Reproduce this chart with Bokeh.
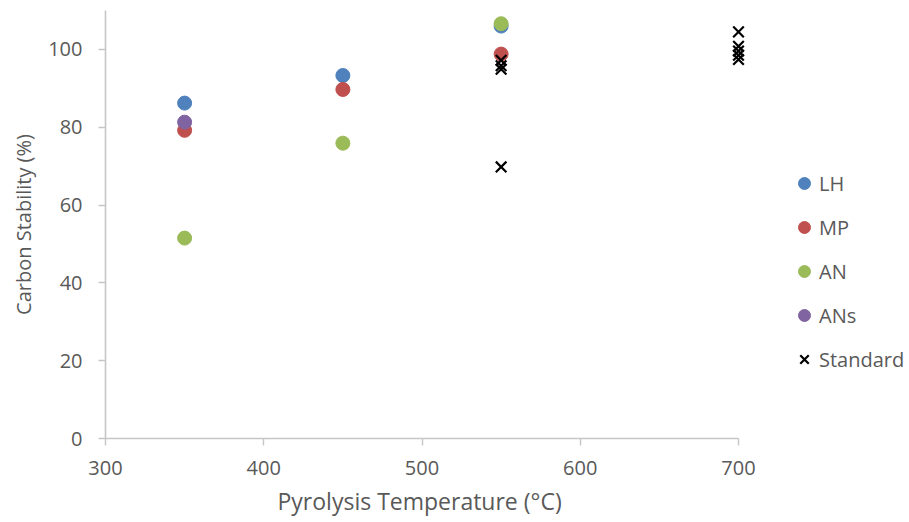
from bokeh.plotting import figure
from bokeh.models import Range1d, FixedTicker, Legend, LegendItem, Title
from bokeh.embed import file_html
from bokeh.resources import INLINE

# ---- data ----
lh_x = [350, 450, 550]
lh_y = [86.2, 93.3, 106.0]
mp_x = [350, 450, 550]
mp_y = [79.2, 89.7, 98.8]
an_x = [350, 450, 550]
an_y = [51.5, 75.9, 106.6]
ans_x = [350]
ans_y = [81.3]
std_x = [550, 550, 550, 550, 700, 700, 700, 700, 700]
std_y = [97.2, 95.8, 94.9, 69.8, 104.5, 100.8, 99.6, 98.5, 97.4]

x_ticks = [300, 400, 500, 600, 700]
y_ticks = [0, 20, 40, 60, 80, 100]

FONT = "Open Sans"
GRAY = "#595959"
AXIS = "#c6c6c6"

W, H = 909, 522
LEFT = 105
PX_PER_UNIT = 1.5825  # horizontal scale (px per °C) of the reference
x_end = 300 + (W - LEFT) / PX_PER_UNIT  # frame runs to the right edge; axis is bounded to 300..700

p = figure(width=W, height=H, output_backend="svg", toolbar_location=None,
           x_range=Range1d(300, x_end), y_range=Range1d(0, 110),
           min_border_left=LEFT, min_border_right=0,
           min_border_top=10, min_border_bottom=H - 438)
p.outline_line_color = None
p.grid.grid_line_color = None
p.background_fill_color = "white"
p.border_fill_color = "white"

r_lh = p.scatter(lh_x, lh_y, size=14, marker="circle", fill_color="#4f81bd", line_color="#4f81bd")
r_mp = p.scatter(mp_x, mp_y, size=14, marker="circle", fill_color="#c0504d", line_color="#c0504d")
r_an = p.scatter(an_x, an_y, size=14, marker="circle", fill_color="#9bbb59", line_color="#9bbb59")
r_ans = p.scatter(ans_x, ans_y, size=14, marker="circle", fill_color="#8064a2", line_color="#8064a2")
r_std = p.scatter(std_x, std_y, size=15, marker="x", line_color="black", line_width=2.2)

for ax in (p.xaxis[0], p.yaxis[0]):
    ax.axis_line_color = AXIS
    ax.axis_line_width = 1.6
    ax.major_tick_line_color = AXIS
    ax.major_tick_line_width = 1.4
    ax.major_tick_in = 0
    ax.major_tick_out = 7
    ax.minor_tick_line_color = None
    ax.major_label_text_font = FONT
    ax.major_label_text_font_size = "20px"
    ax.major_label_text_color = GRAY
    ax.axis_label_text_font = FONT
    ax.axis_label_text_font_size = "20px"
    ax.axis_label_text_color = GRAY
    ax.axis_label_text_font_style = "normal"

p.xaxis[0].ticker = FixedTicker(ticks=x_ticks)
p.xaxis[0].bounds = (300, 700)
p.xaxis[0].major_label_standoff = 15

p.yaxis[0].ticker = FixedTicker(ticks=y_ticks)
p.yaxis[0].major_label_standoff = 16
p.yaxis[0].axis_label = "Carbon Stability (%)"
p.yaxis[0].axis_label_standoff = 8

xlabel = Title(text="Pyrolysis Temperature (°C)", align="left", offset=172,
               text_font=FONT, text_font_size="23px", text_color=GRAY,
               text_font_style="normal", standoff=11,
               vertical_align="bottom", text_line_height=0.8)
p.add_layout(xlabel, "below")

legend = Legend(items=[
    LegendItem(label="LH", renderers=[r_lh]),
    LegendItem(label="MP", renderers=[r_mp]),
    LegendItem(label="AN", renderers=[r_an]),
    LegendItem(label="ANs", renderers=[r_ans]),
    LegendItem(label="Standard", renderers=[r_std]),
], location=(684, 64))
legend.border_line_color = None
legend.background_fill_alpha = 0
legend.padding = 0
legend.margin = 0
legend.glyph_width = 30
legend.glyph_height = 30
legend.spacing = 14
legend.label_standoff = -5
legend.label_text_font = FONT
legend.label_text_font_size = "20px"
legend.label_text_color = GRAY
p.add_layout(legend, "center")

open("out.html", "w").write(file_html(p, INLINE))
